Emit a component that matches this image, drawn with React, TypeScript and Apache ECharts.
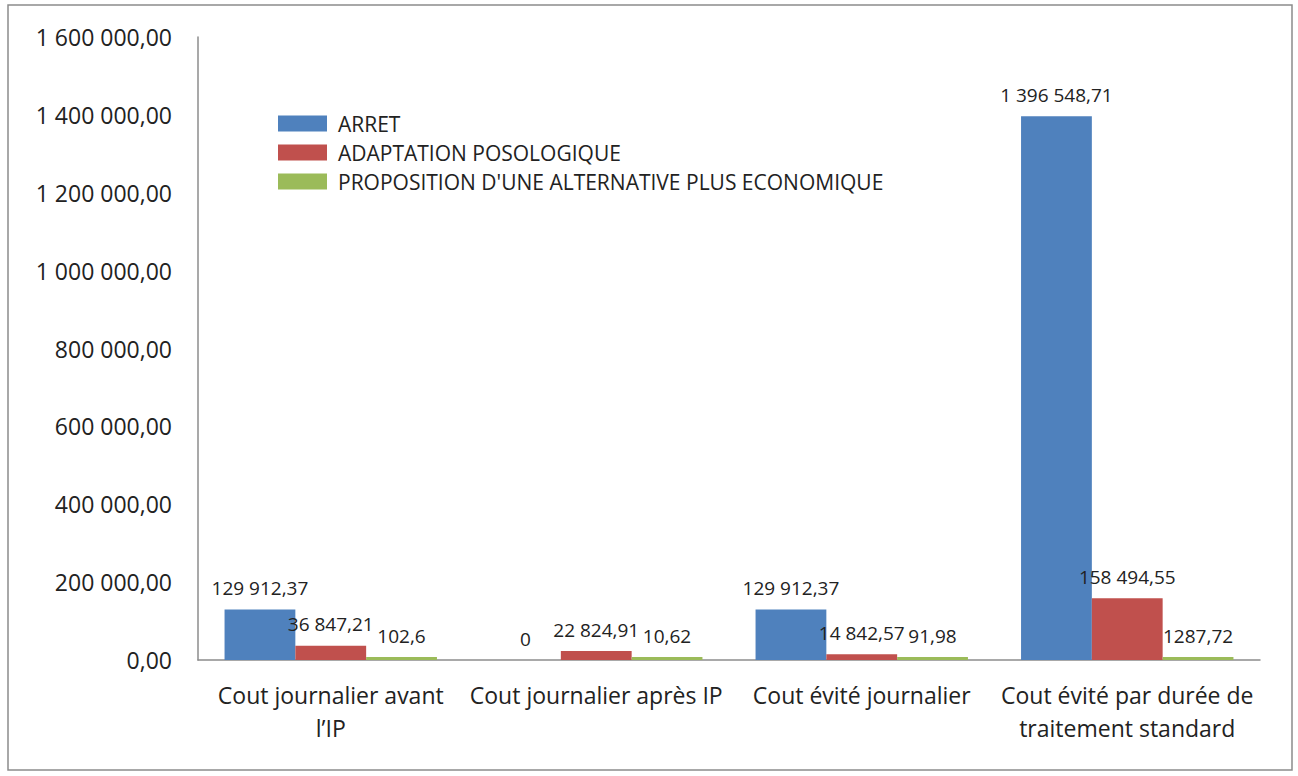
import React, { useEffect, useRef } from "react";
import * as echarts from "echarts";

const categories = [
  "Cout journalier avant\nl\u2019IP",
  "Cout journalier après IP",
  "Cout évité journalier",
  "Cout évité par durée de\ntraitement standard",
];

const arret = [129912.37, 0, 129912.37, 1396548.71];
const adaptation = [36847.21, 22824.91, 14842.57, 158494.55];
const alternative = [102.6, 10.62, 91.98, 1287.72];

const seriesNames = [
  "ARRET",
  "ADAPTATION POSOLOGIQUE",
  "PROPOSITION D'UNE ALTERNATIVE PLUS ECONOMIQUE",
];
const colors = ["#4F81BD", "#C0504D", "#9BBB59"];

const FONT = "'Open Sans', 'Liberation Sans', sans-serif";

function groupThousands(intPart: string): string {
  return intPart.replace(/\B(?=(\d{3})+(?!\d))/g, " ");
}

function axisFormat(v: number): string {
  const [i, d] = v.toFixed(2).split(".");
  return groupThousands(i) + "," + d;
}

function labelFormat(v: number): string {
  if (v >= 10000) {
    const [i, d] = v.toFixed(2).split(".");
    return groupThousands(i) + "," + d;
  }
  return String(v).replace(".", ",");
}

export default function App() {
  const ref = useRef<HTMLDivElement>(null);

  useEffect(() => {
    if (!ref.current) return;
    const chart = echarts.init(ref.current, undefined, { renderer: "svg" });
    const makeSeries = (name: string, data: number[], color: string, minH = 0) => ({
      name,
      type: "bar",
      data,
      barGap: "0%",
      barCategoryGap: "20%",
      barMinHeight: minH,
      itemStyle: { color },
      label: {
        show: true,
        position: "top",
        distance: 12,
        color: "#222",
        fontFamily: FONT,
        fontSize: 19,
        formatter: (p: any) => labelFormat(p.value),
      },
    });
    chart.setOption({
      animation: false,
      backgroundColor: "#fff",
      graphic: [
        {
          type: "rect",
          shape: { x: 8, y: 5, width: 1284, height: 765 },
          style: { fill: "none", stroke: "#8c8c8c", lineWidth: 1.5 },
          silent: true,
        },
      ],
      grid: { left: 198, top: 37, right: 38, bottom: 116 },
      legend: {
        orient: "vertical",
        left: 273,
        top: 108,
        itemWidth: 49,
        itemHeight: 16,
        itemGap: 8,
        icon: "rect",
        data: seriesNames,
        textStyle: {
          fontFamily: FONT,
          fontSize: 21,
          color: "#222",
          padding: [0, 0, 0, 6],
        },
      },
      xAxis: {
        type: "category",
        data: categories,
        axisLine: { lineStyle: { color: "#8c8c8c", width: 1.5 } },
        axisTick: { show: false },
        axisLabel: {
          interval: 0,
          margin: 18,
          fontFamily: FONT,
          fontSize: 23,
          lineHeight: 33,
          color: "#222",
        },
      },
      yAxis: {
        type: "value",
        min: 0,
        max: 1600000,
        interval: 200000,
        splitLine: { show: false },
        axisLine: { show: true, lineStyle: { color: "#8c8c8c", width: 1.5 } },
        axisTick: { show: false },
        axisLabel: {
          margin: 26,
          fontFamily: FONT,
          fontSize: 23,
          color: "#222",
          formatter: (v: number) => axisFormat(v),
        },
      },
      series: [
        makeSeries(seriesNames[0], arret, colors[0]),
        makeSeries(seriesNames[1], adaptation, colors[1]),
        makeSeries(seriesNames[2], alternative, colors[2], 3),
      ],
    });
    return () => chart.dispose();
  }, []);

  return (
    <div
      ref={ref}
      style={{ position: "fixed", left: 0, top: 0, width: 1298, height: 776 }}
    />
  );
}
